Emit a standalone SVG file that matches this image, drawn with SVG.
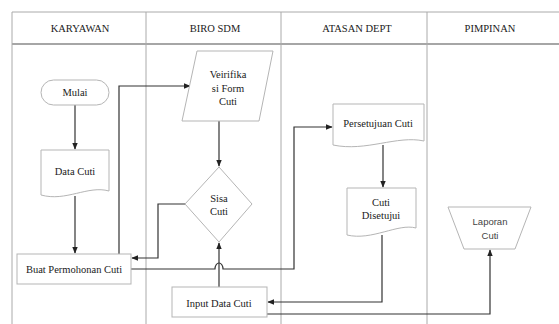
<svg xmlns="http://www.w3.org/2000/svg" width="559" height="324" viewBox="0 0 559 324">
<defs>
<marker id="ah" viewBox="0 0 10 10" refX="9" refY="5" markerWidth="7" markerHeight="7" orient="auto" markerUnits="userSpaceOnUse">
<path d="M0,1 L10,5 L0,9 z" fill="#222"/>
</marker>
<style>
.lane{stroke:#aaa;stroke-width:1;fill:none}
.hdr{stroke:#888;stroke-width:1.6}
.shape{fill:#fff;stroke:#b5b5b5;stroke-width:1}
.t{font-family:"Liberation Serif","Times New Roman",serif;font-size:10.5px;fill:#1a1a1a;text-anchor:middle}
.s{font-family:"Liberation Sans",Arial,sans-serif;font-size:9.5px;fill:#444;text-anchor:middle}
.c{fill:none;stroke:#333;stroke-width:1.2}
</style>
</defs>
<rect width="559" height="324" fill="#fff"/>
<g id="lanes">
<line class="lane" x1="12" y1="12" x2="559" y2="12"/>
<line class="hdr" x1="12" y1="44" x2="559" y2="44"/>
<line class="lane" x1="12" y1="12" x2="12" y2="324"/>
<line class="lane" x1="146" y1="12" x2="146" y2="324"/>
<line class="lane" x1="281" y1="12" x2="281" y2="324"/>
<line class="lane" x1="427" y1="12" x2="427" y2="324"/>
<text class="t" x="80" y="32">KARYAWAN</text>
<text class="t" x="215" y="32">BIRO SDM</text>
<text class="t" x="357" y="32">ATASAN DEPT</text>
<text class="t" x="490" y="32">PIMPINAN</text>
</g>
<g id="connectors">
<path class="c" d="M75,105 V149" marker-end="url(#ah)"/>
<path class="c" d="M75,196 V253" marker-end="url(#ah)"/>
<path class="c" d="M119,254 V86 H190" marker-end="url(#ah)"/>
<path class="c" d="M219,121 V166" marker-end="url(#ah)"/>
<path class="c" d="M185,204 H158 V258 H132" marker-end="url(#ah)"/>
<path class="c" d="M131,269 H215 A4,6 0 0 1 223,269 H294 V127 H332" marker-end="url(#ah)"/>
<path class="c" d="M219,287 V243" marker-end="url(#ah)"/>
<path class="c" d="M383,145 V187" marker-end="url(#ah)"/>
<path class="c" d="M382,235 V302 H268" marker-end="url(#ah)"/>
<path class="c" d="M267,314 H490 V250" marker-end="url(#ah)"/>
</g>
<g id="mulai">
<rect class="shape" x="41" y="80" width="68" height="25" rx="12.5"/>
<text class="t" x="75" y="96">Mulai</text>
</g>
<g id="data-cuti">
<path class="shape" d="M41,150 H109 V191 C88,185 66,202 41,195 Z"/>
<text class="t" x="75" y="175">Data Cuti</text>
</g>
<g id="buat-permohonan">
<rect class="shape" x="17" y="254" width="114" height="30"/>
<text class="t" x="74" y="273">Buat Permohonan Cuti</text>
</g>
<g id="verifikasi">
<path class="shape" d="M197,51 H273 L259,121 H182 Z"/>
<text class="t" x="228" y="78">Veirifika</text>
<text class="t" x="228" y="92">si Form</text>
<text class="t" x="228" y="105">Cuti</text>
</g>
<g id="sisa-cuti">
<path class="shape" d="M219,167 L252,204 L219,242 L185,204 Z"/>
<text class="t" x="219" y="202">Sisa</text>
<text class="t" x="219" y="215">Cuti</text>
</g>
<g id="input-data">
<rect class="shape" x="172" y="287" width="95" height="30"/>
<text class="t" x="219" y="307">Input Data Cuti</text>
</g>
<g id="persetujuan">
<path class="shape" d="M333,104 H424 V141 C397,135 366,152 333,145 Z"/>
<text class="t" x="378" y="127">Persetujuan Cuti</text>
</g>
<g id="cuti-disetujui">
<path class="shape" d="M347,188 H416 V228 C398,223 372,241 347,235 Z"/>
<text class="t" x="381" y="206">Cuti</text>
<text class="t" x="381" y="219">Disetujui</text>
</g>
<g id="laporan">
<path class="shape" d="M448,207 H531 L515,249 H464 Z"/>
<text class="s" x="490" y="225">Laporan</text>
<text class="s" x="490" y="239">Cuti</text>
</g>
</svg>
